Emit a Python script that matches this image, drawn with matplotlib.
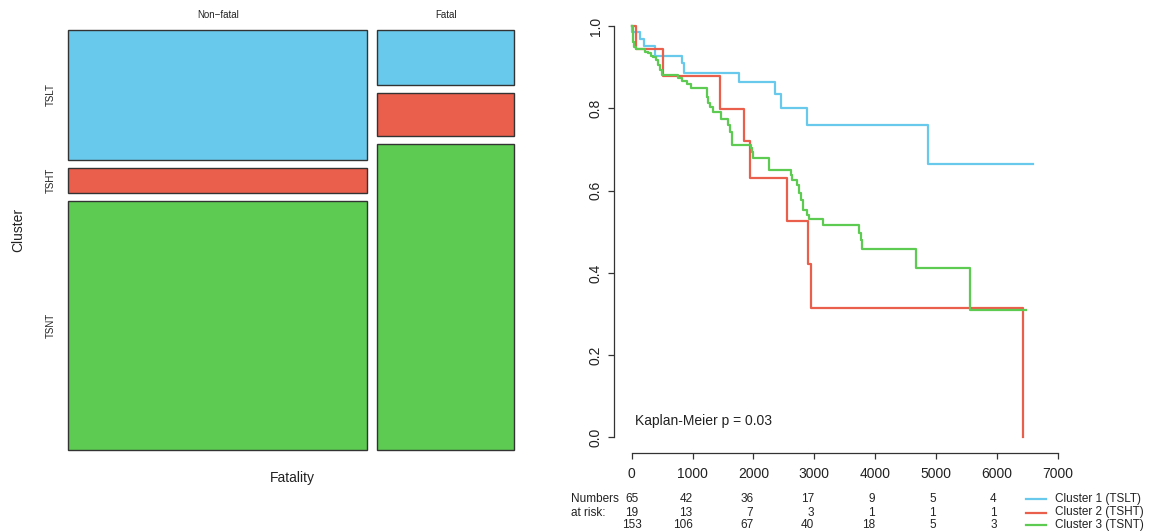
import numpy as np
import matplotlib
matplotlib.use("Agg")
import matplotlib.pyplot as plt
from matplotlib.patches import Rectangle
from matplotlib.lines import Line2D
import matplotlib.transforms as mtransforms

plt.rcParams['font.family'] = ['Liberation Sans', 'DejaVu Sans']

# Mosaic data (counts per fatality group, clusters top to bottom)
clusters = ['TSLT', 'TSHT', 'TSNT']
fatality = ['Non\u2212fatal', 'Fatal']
counts_nonfatal = [52, 10, 100]
counts_fatal = [10, 8, 56]

colors = ['#68C9EC', '#EA5E4C', '#5DCB51']

# Kaplan-Meier curves (time of step, survival after step, last follow-up)
km_t1 = [10, 136, 202, 383, 832, 860, 1769, 2362, 2450, 2890, 4866]
km_s1 = [0.985, 0.969, 0.952, 0.928, 0.909, 0.887, 0.863, 0.835, 0.800, 0.759, 0.665]
km_end1 = 6602

km_t2 = [66, 520, 1452, 1846, 1945, 2553, 2898, 2948, 6438]
km_s2 = [0.945, 0.878, 0.799, 0.720, 0.630, 0.525, 0.421, 0.315, 0.0]
km_end2 = 6438

km_t3 = [16, 27, 43, 66, 219, 274, 312, 356, 400, 438, 465, 493, 767, 822, 904, 975,
         1243, 1260, 1287, 1331, 1460, 1588, 1616, 1644, 1654, 1956, 1973, 2000, 2263,
         2614, 2630, 2712, 2750, 2778, 2821, 2877, 2920, 3140, 3737, 3765, 3791, 4674, 5565]
km_s3 = [0.974, 0.962, 0.950, 0.943, 0.938, 0.934, 0.927, 0.924, 0.917, 0.905, 0.893, 0.881,
         0.873, 0.867, 0.859, 0.849, 0.828, 0.812, 0.802, 0.792, 0.775, 0.759, 0.743, 0.727,
         0.711, 0.703, 0.695, 0.680, 0.649, 0.637, 0.626, 0.614, 0.593, 0.577, 0.553, 0.541,
         0.530, 0.517, 0.498, 0.480, 0.458, 0.413, 0.311]
km_end3 = 6482

legend_labels = ['Cluster 1 (TSLT)', 'Cluster 2 (TSHT)', 'Cluster 3 (TSNT)']
risk_times = [0, 1000, 2000, 3000, 4000, 5000, 6000]
risk_1 = [65, 42, 36, 17, 9, 5, 4]
risk_2 = [19, 13, 7, 3, 1, 1, 1]
risk_3 = [153, 106, 67, 40, 18, 5, 3]
p_text = 'Kaplan-Meier p = 0.03'

W, H = 1156, 532
fig = plt.figure(figsize=(W / 100, H / 100), dpi=100)


def px_axes(x0, y0, x1, y1):
    return fig.add_axes([x0 / W, 1 - y1 / H, (x1 - x0) / W, (y1 - y0) / H])


# ---------------- mosaic plot ----------------
ax1 = px_axes(68, 30, 514, 450)
ax1.set_xlim(0, 1)
ax1.set_ylim(0, 1)
ax1.axis('off')

gap_x = 10 / 446
gap_y = 8 / 420
cols = [counts_nonfatal, counts_fatal]
total = sum(sum(c) for c in cols)
x = 0
for j, col in enumerate(cols):
    w = (1 - gap_x) * sum(col) / total
    y = 1
    for i, n in enumerate(col):
        h = (1 - 2 * gap_y) * n / sum(col)
        ax1.add_patch(Rectangle((x, y - h), w, h, facecolor=colors[i],
                                edgecolor='#333333', lw=1.0, clip_on=False))
        if j == 0:
            ax1.text(-0.038, y - h / 2, clusters[i], rotation=90, ha='center',
                     va='center', fontsize=7, color='#222222')
        y -= h + gap_y
    ax1.text(x + w / 2, 1.0357, fatality[j], ha='center', va='center',
             fontsize=7, color='#222222')
    x += w + gap_x

ax1.text(-0.112, 0.524, 'Cluster', rotation=90, ha='center', va='center',
         fontsize=10, color='#222222', transform=ax1.transAxes)
ax1.text(0.502, -0.0667, 'Fatality', ha='center', va='center',
         fontsize=10, color='#222222', transform=ax1.transAxes)

# ---------------- Kaplan-Meier plot ----------------
ax2 = px_axes(614, 20, 1060, 453.3)
ax2.set_xlim(-291, 7041)
ax2.set_ylim(-0.0384, 1.0146)

for t, s, end, c in [(km_t1, km_s1, km_end1, colors[0]),
                     (km_t2, km_s2, km_end2, colors[1]),
                     (km_t3, km_s3, km_end3, colors[2])]:
    xs = [0] + t + [end]
    ys = [1.0] + s + [s[-1]]
    ax2.step(xs, ys, where='post', color=c, lw=1.6)

for side in ['top', 'right']:
    ax2.spines[side].set_visible(False)
ax2.spines['left'].set_bounds(0, 1)
ax2.spines['bottom'].set_bounds(0, 7000)
for side in ['left', 'bottom']:
    ax2.spines[side].set_color('#333333')
    ax2.spines[side].set_linewidth(0.9)

ax2.set_yticks(np.arange(0, 1.01, 0.2))
ax2.set_yticklabels(['%.1f' % v for v in np.arange(0, 1.01, 0.2)],
                    rotation=90, va='center')
ax2.set_xticks(np.arange(0, 7001, 1000))
ax2.tick_params(axis='both', length=4, width=0.9, color='#333333',
                labelsize=10, labelcolor='#222222')
ax2.tick_params(axis='y', pad=4)
ax2.tick_params(axis='x', pad=6)

ax2.text(60, 0.0405, p_text, fontsize=10, ha='left', va='center', color='#222222')

# risk table
tr = mtransforms.blended_transform_factory(ax2.transData, fig.transFigure)
row_y = [499, 512.5, 525]
fig.text(571 / W, 1 - row_y[0] / H, 'Numbers', fontsize=8.5, ha='left',
         va='center', color='#222222')
fig.text(571 / W, 1 - row_y[1] / H, 'at risk:', fontsize=8.5, ha='left',
         va='center', color='#222222')
for r, row in enumerate([risk_1, risk_2, risk_3]):
    for k, (t, n) in enumerate(zip(risk_times, row)):
        ha = 'center' if k == 0 else 'right'
        ax2.text(t, 1 - row_y[r] / H, str(n), transform=tr, fontsize=8.5,
                 ha=ha, va='center', color='#222222', clip_on=False)
    fig.add_artist(Line2D([1026 / W, 1046 / W], [1 - row_y[r] / H] * 2,
                          color=colors[r], lw=1.6))
    fig.text(1055 / W, 1 - row_y[r] / H, legend_labels[r], fontsize=8.5,
             ha='left', va='center', color='#222222')

fig.savefig('out.png', dpi=100, facecolor='white')
